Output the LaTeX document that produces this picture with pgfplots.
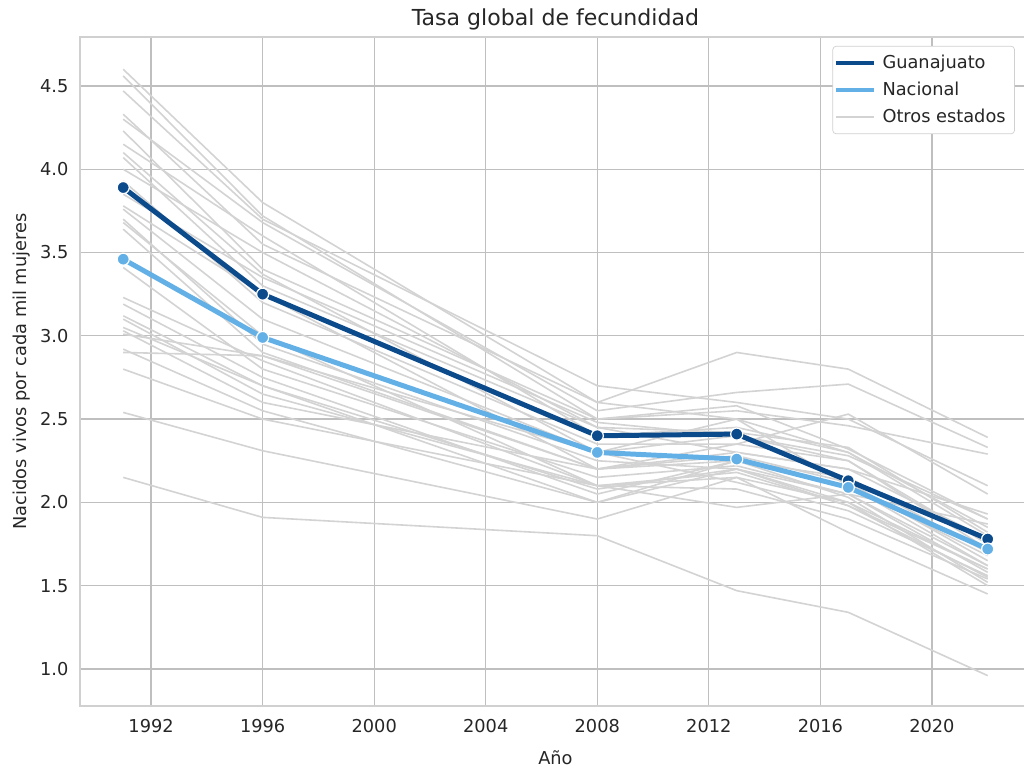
\documentclass[border=0pt]{standalone}
\usepackage{pgfplots}
\pgfplotsset{compat=1.18}
\usepackage{fontspec}
\setmainfont{DejaVu Sans}
\definecolor{gj}{HTML}{0B4A8B}
\definecolor{nac}{HTML}{63B0E6}
\definecolor{gris}{HTML}{D3D3D3}
\definecolor{grid}{HTML}{D0D0D0}
\definecolor{txt}{HTML}{262626}
\begin{document}
\begin{tikzpicture}
\begin{axis}[
  scale only axis, width=534.9pt, height=376.3pt,
  at={(0,0)}, anchor=south west,
  xmin=1989.45, xmax=2023.55, ymin=0.778, ymax=4.794,
  xtick={1992,1996,2000,2004,2008,2012,2016,2020},
  ytick={1.0,1.5,2.0,2.5,3.0,3.5,4.0,4.5},
  /pgf/number format/assume math mode=true,
  xticklabel style={/pgf/number format/1000 sep={}, font=\fontsize{10}{12}\selectfont, text=txt, yshift=-4pt},
  yticklabel style={/pgf/number format/fixed, /pgf/number format/fixed zerofill, /pgf/number format/precision=1, font=\fontsize{10}{12}\selectfont, text=txt, xshift=-3pt},
  major tick length=0pt,
  grid=major, grid style={grid, line width=0.7pt},
  axis line style={grid, line width=0.7pt},
  title={Tasa global de fecundidad},
  title style={font=\fontsize{12.4}{14}\selectfont, text=txt, yshift=-5.5pt},
  xlabel={Año}, ylabel={Nacidos vivos por cada mil mujeres},
  xlabel style={font=\fontsize{10}{12}\selectfont, text=txt, yshift=-3pt},
  ylabel style={font=\fontsize{10}{12}\selectfont, text=txt, yshift=-1.5pt},
  legend style={at={(1,1)}, anchor=north east, xshift=-9pt, yshift=-5pt,
    draw=grid, rounded corners=2pt, font=\fontsize{10}{12}\selectfont, text=txt,
    row sep=2pt, inner xsep=1pt, inner ysep=3pt, nodes={inner xsep=4pt}},
  legend cell align=left,
  legend image code/.code={\draw[#1] (3pt,0pt) -- (24pt,0pt);},
]
\pgfplotsset{every axis plot/.append style={line join=round}}
% Otros estados
\addplot[gris, line width=0.9pt, forget plot] coordinates {(1991,4.60)(1996,3.80)(2008,2.60)(2013,2.50)(2017,2.30)(2022,1.85)};
\addplot[gris, line width=0.9pt, forget plot] coordinates {(1991,4.56)(1996,3.72)(2008,2.50)(2013,2.58)(2017,2.32)(2022,1.90)};
\addplot[gris, line width=0.9pt, forget plot] coordinates {(1991,4.47)(1996,3.70)(2008,2.70)(2013,2.60)(2017,2.50)(2022,2.10)};
\addplot[gris, line width=0.9pt, forget plot] coordinates {(1991,4.33)(1996,3.55)(2008,2.60)(2013,2.90)(2017,2.80)(2022,2.39)};
\addplot[gris, line width=0.9pt, forget plot] coordinates {(1991,4.30)(1996,3.68)(2008,2.55)(2013,2.66)(2017,2.71)(2022,2.33)};
\addplot[gris, line width=0.9pt, forget plot] coordinates {(1991,4.23)(1996,3.40)(2008,2.50)(2013,2.55)(2017,2.46)(2022,2.29)};
\addplot[gris, line width=0.9pt, forget plot] coordinates {(1991,4.15)(1996,3.60)(2008,2.40)(2013,2.45)(2017,2.30)(2022,1.80)};
\addplot[gris, line width=0.9pt, forget plot] coordinates {(1991,4.10)(1996,3.37)(2008,2.30)(2013,2.40)(2017,2.25)(2022,1.75)};
\addplot[gris, line width=0.9pt, forget plot] coordinates {(1991,4.07)(1996,3.30)(2008,2.45)(2013,2.30)(2017,2.20)(2022,1.93)};
\addplot[gris, line width=0.9pt, forget plot] coordinates {(1991,3.93)(1996,3.20)(2008,2.35)(2013,2.35)(2017,2.53)(2022,2.05)};
\addplot[gris, line width=0.9pt, forget plot] coordinates {(1991,3.78)(1996,3.25)(2008,2.20)(2013,2.25)(2017,2.15)(2022,1.70)};
\addplot[gris, line width=0.9pt, forget plot] coordinates {(1991,3.76)(1996,3.10)(2008,2.30)(2013,2.50)(2017,2.10)(2022,1.68)};
\addplot[gris, line width=0.9pt, forget plot] coordinates {(1991,3.70)(1996,2.95)(2008,2.25)(2013,2.20)(2017,2.05)(2022,1.62)};
\addplot[gris, line width=0.9pt, forget plot] coordinates {(1991,3.68)(1996,3.00)(2008,2.10)(2013,2.15)(2017,2.00)(2022,1.60)};
\addplot[gris, line width=0.9pt, forget plot] coordinates {(1991,3.64)(1996,2.90)(2008,2.20)(2013,2.28)(2017,2.12)(2022,1.65)};
\addplot[gris, line width=0.9pt, forget plot] coordinates {(1991,3.41)(1996,2.80)(2008,2.15)(2013,2.22)(2017,2.05)(2022,1.58)};
\addplot[gris, line width=0.9pt, forget plot] coordinates {(1991,3.23)(1996,2.85)(2008,2.10)(2013,2.18)(2017,1.98)(2022,1.55)};
\addplot[gris, line width=0.9pt, forget plot] coordinates {(1991,3.19)(1996,2.75)(2008,2.05)(2013,2.25)(2017,2.10)(2022,1.62)};
\addplot[gris, line width=0.9pt, forget plot] coordinates {(1991,3.12)(1996,2.70)(2008,2.00)(2013,2.20)(2017,2.00)(2022,1.50)};
\addplot[gris, line width=0.9pt, forget plot] coordinates {(1991,3.10)(1996,2.65)(2008,2.10)(2013,1.97)(2017,2.05)(2022,1.87)};
\addplot[gris, line width=0.9pt, forget plot] coordinates {(1991,3.03)(1996,2.60)(2008,2.20)(2013,2.30)(2017,2.20)(2022,1.78)};
\addplot[gris, line width=0.9pt, forget plot] coordinates {(1991,3.01)(1996,2.88)(2008,2.30)(2013,2.12)(2017,1.95)(2022,1.56)};
\addplot[gris, line width=0.9pt, forget plot] coordinates {(1991,2.92)(1996,2.55)(2008,2.00)(2013,2.25)(2017,2.03)(2022,1.52)};
\addplot[gris, line width=0.9pt, forget plot] coordinates {(1991,2.90)(1996,2.88)(2008,2.20)(2013,2.35)(2017,2.25)(2022,1.72)};
\addplot[gris, line width=0.9pt, forget plot] coordinates {(1991,2.80)(1996,2.50)(2008,2.10)(2013,2.08)(2017,1.90)(2022,1.54)};
\addplot[gris, line width=0.9pt, forget plot] coordinates {(1991,2.54)(1996,2.31)(2008,1.90)(2013,2.15)(2017,1.82)(2022,1.45)};
\addplot[gris, line width=0.9pt, forget plot] coordinates {(1991,2.15)(1996,1.91)(2008,1.80)(2013,1.47)(2017,1.34)(2022,0.96)};
\addplot[gris, line width=0.9pt, forget plot] coordinates {(1991,3.85)(1996,3.35)(2008,2.48)(2013,2.40)(2017,2.28)(2022,1.90)};
\addplot[gris, line width=0.9pt, forget plot] coordinates {(1991,4.00)(1996,3.50)(2008,2.45)(2013,2.42)(2017,2.33)(2022,1.82)};
\addplot[gris, line width=0.9pt, forget plot] coordinates {(1991,3.05)(1996,2.70)(2008,2.08)(2013,2.20)(2017,1.98)(2022,1.60)};
% Guanajuato
\addplot[gj, line width=2.8pt, mark=*, mark size=3.4pt, mark options={fill=gj, draw=white, line width=0.7pt}, forget plot]
  coordinates {(1991,3.89)(1996,3.25)(2008,2.40)(2013,2.41)(2017,2.13)(2022,1.78)};
% Nacional
\addplot[nac, line width=2.8pt, mark=*, mark size=3.4pt, mark options={fill=nac, draw=white, line width=0.7pt}, forget plot]
  coordinates {(1991,3.46)(1996,2.99)(2008,2.30)(2013,2.26)(2017,2.09)(2022,1.72)};
\addlegendimage{gj, line width=2pt}
\addlegendentry{Guanajuato}
\addlegendimage{nac, line width=2pt}
\addlegendentry{Nacional}
\addlegendimage{gris, line width=0.9pt}
\addlegendentry{Otros estados}
\end{axis}
\pgfresetboundingbox
\useasboundingbox (-45pt,-35.44pt) rectangle (531pt,397.1pt);
\end{tikzpicture}
\end{document}
